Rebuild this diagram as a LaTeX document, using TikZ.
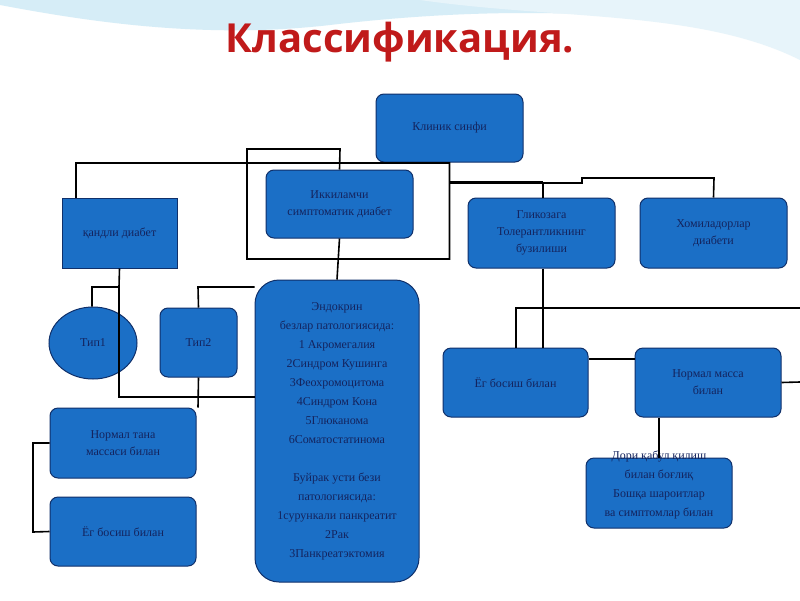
\documentclass[tikz,border=0pt]{standalone}
\usepackage{fontspec}
\setmainfont{Liberation Serif}
\newfontfamily\titlefont{Open Sans}
\usetikzlibrary{shapes.geometric}
\definecolor{boxfill}{HTML}{1B6FC6}
\definecolor{boxline}{HTML}{10306A}
\definecolor{txt}{HTML}{14245E}
\definecolor{ttl}{HTML}{C01A1A}
\definecolor{wave}{HTML}{D6EDF7}
\begin{document}
\begin{tikzpicture}[x=1pt,y=-1pt,
  box/.style={draw=boxline,line width=1pt,fill=boxfill,rounded corners=8pt,
    text=txt,align=center,font=\fontsize{12}{17}\selectfont,inner sep=2pt},
  sq/.style={box,rounded corners=0pt},
  ln/.style={line width=1.6pt,black}]
\useasboundingbox (0,0) rectangle (800,600);
\fill[white] (0,0) rectangle (800,600);
\fill[wave] (0,0) -- (800,0) -- (800,40) .. controls (650,10) and (500,5) .. (330,25) .. controls (200,40) and (80,20) .. (0,5) -- cycle;
\fill[wave!60] (420,0) .. controls (560,20) and (700,10) .. (800,60) -- (800,0) -- cycle;
\node[font=\titlefont\bfseries\fontsize{40}{44}\selectfont,text=ttl] (title) at (400,42) {Классификация.};

\node[box,minimum width=147,minimum height=68] (k) at (449.5,128) {Клиник синфи};
\node[box,minimum width=147,minimum height=68] (i) at (339.5,204) {Иккиламчи\\симптоматик диабет};
\node[sq,minimum width=115,minimum height=70] (q) at (119.5,233) {қандли диабет};
\node[box,minimum width=147,minimum height=70] (g) at (541.5,233) {Гликозага\\Толерантликнинг\\бузилиши};
\node[box,minimum width=147,minimum height=70] (h) at (713.5,233) {Хомиладорлар\\диабети};
\node[ellipse,draw=boxline,line width=1pt,fill=boxfill,text=txt,font=\fontsize{12}{17}\selectfont,minimum width=88,minimum height=72,inner sep=0pt] (t1) at (93,343) {Тип1};
\node[box,minimum width=77,minimum height=69] (t2) at (198.5,342.5) {Тип2};
\node[box,rounded corners=24pt,minimum width=164,minimum height=302,font=\fontsize{12}{19}\selectfont] (e) at (337,431) {Эндокрин\\безлар патологиясида:\\1 Акромегалия\\2Синдром Кушинга\\3Феохромоцитома\\4Синдром Кона\\5Глюканома\\6Соматостатинома\\[19pt]Буйрак усти бези\\патологиясида:\\1сурункали панкреатит\\2Рак\\3Панкреатэктомия};
\node[box,minimum width=146,minimum height=70] (nt) at (123,443) {Нормал тана\\массаси билан};
\node[box,minimum width=146,minimum height=69] (yl) at (123,531.5) {Ёг босиш билан};
\node[box,minimum width=145,minimum height=69] (yr) at (515.5,382.5) {Ёг босиш билан};
\node[box,minimum width=146,minimum height=69] (nm) at (708,382.5) {Нормал масса\\билан};
\node[box,minimum width=146,minimum height=70] (d) at (659,493) {};
\node[text=txt,align=center,font=\fontsize{12}{19}\selectfont,anchor=north] (dt) at (659,447) {Дори қабул қилиш\\билан боғлиқ\\Бошқа шароитлар\\ва симптомлар билан};
\coordinate (re) at (800,308);
\coordinate (re2) at (800,382);

\draw[ln] (k.south) -- (449.5,163) -- (76,163) -- (q.north -| 76,0);
\draw[ln] (449.5,162) -- (449.5,259) -- (247,259) -- (247,149) -- (340,149) -- (i.north);
\draw[ln] (i.south) -- (e.north);
\draw[line width=3pt] (449.5,182) -- (543,182);
\draw[ln] (543,182) -- (g.north -| 543,0);
\draw[ln] (543,183) -- (582,183) -- (582,178) -- (714,178) -- (h.north);
\draw[ln] (q.south) -- (119,287) -- (92,287) -- (t1.north -| 92,0);
\draw[ln] (119,287) -- (119,397) -- (e.west |- 0,397);
\draw[ln] (t2.north) -- (198,287) -- (e.west |- 0,287);
\draw[ln] (t2.south) -- (nt.north -| 198,0);
\draw[ln] (nt.west) -- (33,443) -- (33,532) -- (yl.west);
\draw[ln] (g.south -| 543,0) -- (yr.north -| 543,0);
\draw[ln] (yr.north -| 516,0) -- (516,308) -- (re);
\draw[ln] (yr.east |- 0,359) -- (nm.west |- 0,359);
\draw[ln] (nm.east) -- (re2);
\draw[ln] (nm.south -| 659,0) -- (d.north);
\end{tikzpicture}
\end{document}
